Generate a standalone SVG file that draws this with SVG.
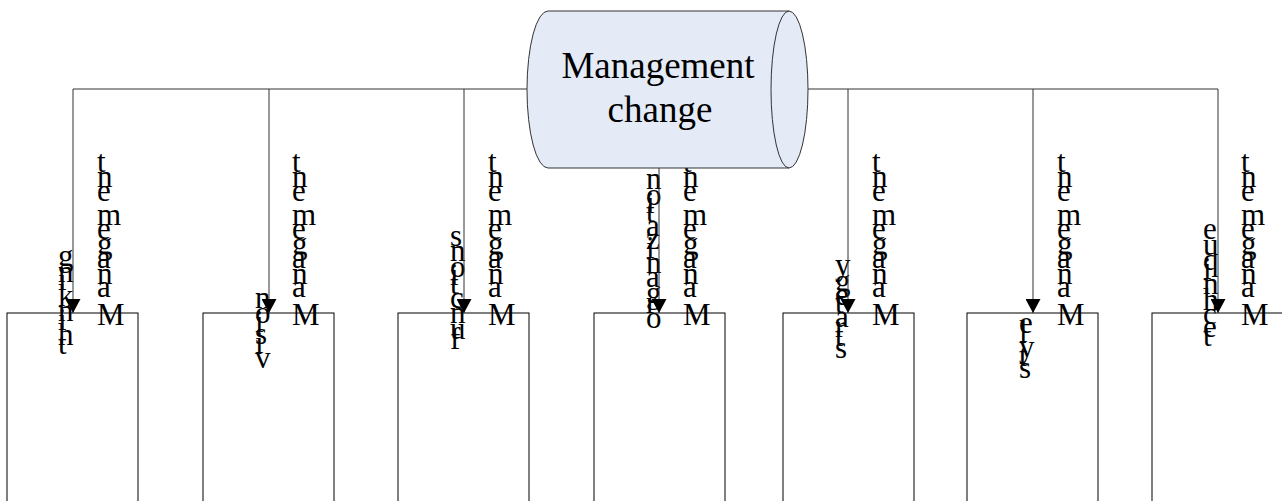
<svg xmlns="http://www.w3.org/2000/svg" width="1282" height="501" viewBox="0 0 1282 501">
<style>
.box{fill:#fff;stroke:#000;stroke-width:1}
.con{fill:none;stroke:#333;stroke-width:1}
.lbl{font-family:"Liberation Serif","Times New Roman",serif;font-size:31px;fill:#000}
.title{font-family:"Liberation Serif","Times New Roman",serif;font-size:37px;fill:#000;text-anchor:middle}
.cyl{fill:#E4EBF7;stroke:#333;stroke-width:1}
</style>
<defs>
<marker id="arr" markerWidth="15" markerHeight="15" refX="14" refY="7.5" orient="auto" markerUnits="userSpaceOnUse" viewBox="0 0 15 15">
<path d="M0,0 L14,7.5 L0,15 Z" fill="#000"/>
</marker>
</defs>
<rect width="1282" height="501" fill="#fff"/>
<g id="box1"><rect class="box" x="7" y="313" width="131" height="210"/>
<text class="lbl" x="97" y="325" transform="rotate(-90 97 325)" rotate="90">Management</text>
<text class="lbl" x="58" y="354" transform="rotate(-90 58 354)" rotate="90">thinking</text></g>
<g id="box2"><rect class="box" x="203" y="313" width="131" height="210"/>
<text class="lbl" x="292" y="325" transform="rotate(-90 292 325)" rotate="90">Management</text>
<text class="lbl" x="255" y="368" transform="rotate(-90 255 368)" rotate="90">vision</text></g>
<g id="box3"><rect class="box" x="398" y="313" width="131" height="210"/>
<text class="lbl" x="488" y="325" transform="rotate(-90 488 325)" rotate="90">Management</text>
<text class="lbl" x="450" y="349" transform="rotate(-90 450 349)" rotate="90">functions</text></g>
<g id="box4"><rect class="box" x="594" y="313" width="131" height="210"/>
<text class="lbl" x="683" y="325" transform="rotate(-90 683 325)" rotate="90">Management</text>
<text class="lbl" x="646" y="328" transform="rotate(-90 646 328)" rotate="90">organization</text></g>
<g id="box5"><rect class="box" x="783" y="313" width="131" height="210"/>
<text class="lbl" x="872" y="325" transform="rotate(-90 872 325)" rotate="90">Management</text>
<text class="lbl" x="835" y="358" transform="rotate(-90 835 358)" rotate="90">strategy</text></g>
<g id="box6"><rect class="box" x="967" y="313" width="131" height="210"/>
<text class="lbl" x="1057" y="325" transform="rotate(-90 1057 325)" rotate="90">Management</text>
<text class="lbl" x="1019" y="378" transform="rotate(-90 1019 378)" rotate="90">style</text></g>
<g id="box7"><rect class="box" x="1152" y="313" width="131" height="210"/>
<text class="lbl" x="1241" y="325" transform="rotate(-90 1241 325)" rotate="90">Management</text>
<text class="lbl" x="1203" y="346" transform="rotate(-90 1203 346)" rotate="90">technique</text></g>
<g id="connectors">
<path class="con" d="M73,89 L1218,89"/>
<path class="con" d="M73,89 L73,313" marker-end="url(#arr)"/>
<path class="con" d="M269,89 L269,313" marker-end="url(#arr)"/>
<path class="con" d="M464,89 L464,313" marker-end="url(#arr)"/>
<path class="con" d="M659,168 L659,313" marker-end="url(#arr)"/>
<path class="con" d="M848,89 L848,313" marker-end="url(#arr)"/>
<path class="con" d="M1033,89 L1033,313" marker-end="url(#arr)"/>
<path class="con" d="M1218,89 L1218,313" marker-end="url(#arr)"/>
</g>
<g id="root">
<path class="cyl" d="M548,11 L789,11 A19,78.5 0 0 1 789,168 L548,168 A21,78.5 0 0 1 548,11 Z"/>
<path class="cyl" d="M789,11 A18,78.5 0 0 0 789,168" style="fill:none"/>
<text class="title" x="658" y="78">Management</text>
<text class="title" x="660" y="122">change</text>
</g>
</svg>
